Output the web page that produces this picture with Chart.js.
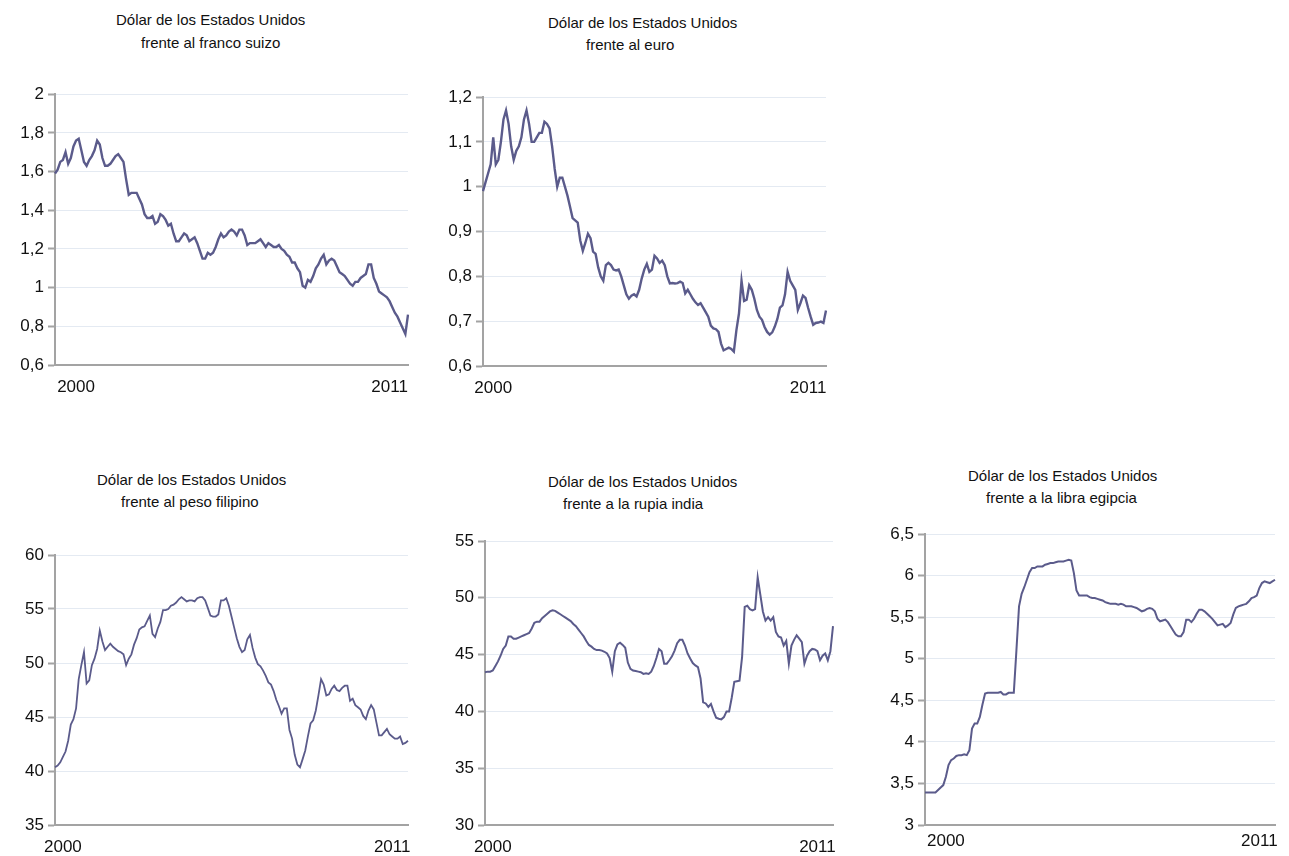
<!DOCTYPE html>
<html>
<head>
<meta charset="utf-8">
<script src="https://cdn.jsdelivr.net/npm/chart.js@4.4.0/dist/chart.umd.min.js"></script>
<style>
  body { margin: 0; width: 1289px; height: 856px; background: #fff; overflow: hidden; position: relative;
         font-family: "Liberation Sans", Arial, sans-serif; }
  .t { position: absolute; font-size: 15px; line-height: 16px; color: #111; white-space: nowrap; }
  canvas { position: absolute; }
</style>
</head>
<body>
<div class="t" style="left:116px;top:12px">Dólar de los Estados Unidos</div>
<div class="t" style="left:141px;top:35px">frente al franco suizo</div>
<div class="t" style="left:548px;top:15px">Dólar de los Estados Unidos</div>
<div class="t" style="left:586px;top:37px">frente al euro</div>
<div class="t" style="left:97px;top:472px">Dólar de los Estados Unidos</div>
<div class="t" style="left:121px;top:494px">frente al peso filipino</div>
<div class="t" style="left:548px;top:474px">Dólar de los Estados Unidos</div>
<div class="t" style="left:563px;top:496px">frente a la rupia india</div>
<div class="t" style="left:968px;top:468px">Dólar de los Estados Unidos</div>
<div class="t" style="left:986px;top:490px">frente a la libra egipcia</div>

<canvas id="c1" width="420" height="320" style="left:0;top:80px"></canvas>
<canvas id="c2" width="410" height="320" style="left:428px;top:80px"></canvas>
<canvas id="c3" width="420" height="316" style="left:0;top:540px"></canvas>
<canvas id="c4" width="415" height="331" style="left:430px;top:525px"></canvas>
<canvas id="c5" width="412" height="338" style="left:870px;top:518px"></canvas>

<script>
// monthly values, Jan 2000 .. Mar 2011
const xTickLabels = ['2000', '2011'];

const chfValues = [
  1.59,1.61,1.65,1.66,1.70,1.64,1.67,1.73,1.76,1.77,
  1.71,1.65,1.63,1.66,1.68,1.71,1.76,1.74,1.67,1.63,
  1.63,1.64,1.66,1.68,1.69,1.67,1.65,1.56,1.48,1.49,
  1.49,1.49,1.46,1.43,1.38,1.36,1.36,1.37,1.33,1.34,
  1.38,1.37,1.35,1.32,1.33,1.28,1.24,1.24,1.26,1.28,
  1.27,1.24,1.25,1.26,1.23,1.19,1.15,1.15,1.18,1.17,
  1.18,1.21,1.25,1.28,1.26,1.27,1.29,1.30,1.29,1.27,
  1.30,1.30,1.27,1.22,1.23,1.23,1.23,1.24,1.25,1.23,
  1.21,1.23,1.22,1.21,1.21,1.22,1.20,1.19,1.17,1.16,
  1.13,1.13,1.10,1.08,1.01,1.00,1.04,1.03,1.06,1.10,
  1.12,1.15,1.17,1.12,1.14,1.15,1.14,1.11,1.08,1.07,
  1.06,1.04,1.02,1.01,1.03,1.03,1.05,1.06,1.07,1.12,
  1.12,1.05,1.02,0.98,0.97,0.96,0.95,0.93,0.90,0.87,
  0.85,0.82,0.79,0.76,0.86
];

const eurValues = [
  0.99,1.01,1.03,1.05,1.11,1.05,1.06,1.10,1.15,1.17,
  1.14,1.09,1.06,1.08,1.09,1.11,1.15,1.17,1.14,1.10,
  1.10,1.11,1.12,1.12,1.145,1.14,1.13,1.09,1.04,1.00,
  1.02,1.02,1.00,0.98,0.955,0.93,0.925,0.92,0.88,0.857,
  0.875,0.895,0.885,0.855,0.85,0.82,0.80,0.79,0.825,0.83,
  0.825,0.815,0.813,0.815,0.80,0.78,0.76,0.75,0.757,0.76,
  0.755,0.77,0.795,0.815,0.828,0.81,0.815,0.846,0.84,0.83,
  0.835,0.825,0.80,0.784,0.785,0.784,0.785,0.788,0.785,0.762,
  0.77,0.76,0.75,0.742,0.736,0.74,0.73,0.72,0.71,0.69,
  0.684,0.682,0.676,0.65,0.635,0.638,0.641,0.638,0.632,0.68,
  0.717,0.79,0.745,0.748,0.78,0.77,0.75,0.725,0.71,0.703,
  0.687,0.676,0.67,0.675,0.688,0.705,0.73,0.735,0.76,0.81,
  0.79,0.78,0.77,0.725,0.74,0.757,0.752,0.73,0.71,0.692,
  0.696,0.697,0.699,0.696,0.724
];

const phpValues = [
  40.35,40.5,40.8,41.3,41.8,42.8,44.3,44.8,45.8,48.5,
  49.8,51.0,48.1,48.4,49.8,50.4,51.3,53.0,52.0,51.2,
  51.5,51.8,51.5,51.3,51.1,51.0,50.8,49.8,50.4,50.8,
  51.7,52.3,53.1,53.3,53.4,53.9,54.4,52.7,52.4,53.2,
  53.8,54.9,54.9,55.0,55.3,55.4,55.6,55.9,56.1,55.9,
  55.7,55.8,55.8,55.7,56.0,56.1,56.1,55.8,55.1,54.4,
  54.3,54.3,54.5,55.8,55.8,56.0,55.3,54.3,53.3,52.3,
  51.5,51.0,51.2,52.2,52.6,51.4,50.5,49.9,49.7,49.3,
  48.8,48.2,48.0,47.4,46.6,46.0,45.3,45.8,45.8,43.8,
  43.0,41.5,40.6,40.35,41.1,41.9,43.2,44.4,44.7,45.6,
  47.0,48.5,48.0,47.0,47.1,47.6,47.9,47.5,47.4,47.7,
  47.9,47.9,46.5,46.7,46.1,45.9,45.7,45.1,44.8,45.6,
  46.1,45.7,44.5,43.3,43.3,43.6,43.9,43.4,43.2,43.0,
  43.0,43.2,42.5,42.6,42.8
];

const inrValues = [
  43.45,43.5,43.5,43.6,44.0,44.4,44.9,45.5,45.8,46.6,
  46.6,46.4,46.4,46.5,46.6,46.7,46.8,46.9,47.3,47.8,
  47.9,47.9,48.2,48.4,48.6,48.8,48.9,48.85,48.7,48.55,
  48.4,48.25,48.1,47.95,47.7,47.5,47.2,46.9,46.6,46.2,
  45.85,45.7,45.5,45.4,45.4,45.35,45.25,45.1,44.7,43.5,
  45.3,45.9,46.05,45.85,45.6,44.3,43.75,43.6,43.55,43.5,
  43.45,43.3,43.35,43.3,43.5,44.0,44.7,45.5,45.3,44.2,
  44.2,44.5,44.85,45.35,46.0,46.3,46.3,45.8,45.1,44.65,
  44.25,44.05,43.9,42.9,40.8,40.7,40.4,40.65,40.0,39.45,
  39.35,39.3,39.5,40.0,40.0,41.2,42.6,42.65,42.7,44.8,
  49.2,49.3,49.0,48.9,49.0,51.8,50.3,48.8,48.0,48.3,
  48.0,48.3,47.0,46.6,46.5,45.8,46.2,44.2,45.8,46.3,
  46.7,46.4,46.1,44.2,44.9,45.3,45.5,45.45,45.3,44.5,
  44.9,45.1,44.5,45.3,47.5
];

const egpValues = [
  3.39,3.39,3.39,3.39,3.39,3.42,3.45,3.48,3.58,3.72,
  3.78,3.80,3.83,3.84,3.84,3.85,3.84,3.90,4.16,4.22,
  4.22,4.30,4.45,4.58,4.59,4.59,4.59,4.59,4.59,4.60,
  4.57,4.57,4.59,4.59,4.59,5.10,5.63,5.78,5.86,5.95,
  6.04,6.09,6.09,6.11,6.11,6.11,6.13,6.14,6.15,6.15,
  6.16,6.17,6.17,6.17,6.18,6.19,6.18,6.03,5.82,5.76,
  5.76,5.76,5.76,5.74,5.73,5.73,5.72,5.71,5.70,5.68,
  5.67,5.66,5.66,5.66,5.65,5.66,5.65,5.63,5.63,5.63,
  5.62,5.61,5.59,5.57,5.58,5.60,5.61,5.60,5.57,5.48,
  5.45,5.46,5.47,5.44,5.39,5.34,5.29,5.27,5.27,5.32,
  5.47,5.47,5.44,5.48,5.54,5.59,5.59,5.57,5.54,5.51,
  5.48,5.44,5.40,5.41,5.42,5.38,5.40,5.43,5.53,5.61,
  5.63,5.64,5.65,5.66,5.69,5.73,5.74,5.76,5.85,5.91,
  5.93,5.92,5.91,5.93,5.95
];

const monthLabels = [];
for (let y = 2000; monthLabels.length < 135; y++) {
  for (let m = 1; m <= 12 && monthLabels.length < 135; m++) monthLabels.push(y + '-' + m);
}

const lineColor = '#5b5b8b';
const axisColor = '#a3a3a3';
const gridColor = '#e4eaf2';
const textColor = '#111';
const fontFam = '"Liberation Sans", Arial, sans-serif';

// labelAt: tick indexes where the two year labels sit (centred)
function makeChart(id, values, yMin, yMax, yStep, pad, lineW, labelAt) {
  return new Chart(document.getElementById(id), {
    type: 'line',
    data: {
      labels: monthLabels.slice(0, values.length),
      datasets: [{ data: values, borderColor: lineColor, borderWidth: lineW, pointRadius: 0, tension: 0, fill: false }]
    },
    options: {
      responsive: false,
      animation: false,
      devicePixelRatio: 1,
      layout: { padding: { top: pad.top, right: pad.right, left: 0, bottom: 0 } },
      plugins: { legend: { display: false }, tooltip: { enabled: false } },
      scales: {
        x: {
          afterFit: s => { s.height = pad.xh; },
          grid: { display: false, drawTicks: false },
          border: { color: axisColor, width: 2 },
          ticks: {
            autoSkip: false, maxRotation: 0, padding: pad.xp,
            color: textColor, font: { size: 17, family: fontFam },
            callback: (v, i) => i === labelAt[0] ? xTickLabels[0] : (i === labelAt[1] ? xTickLabels[1] : '')
          }
        },
        y: {
          min: yMin, max: yMax,
          afterFit: s => { s.width = pad.yw; },
          grid: { color: gridColor, lineWidth: 1, drawTicks: true, tickLength: 7, tickColor: axisColor, tickWidth: 2 },
          border: { color: axisColor, width: 2 },
          ticks: {
            stepSize: yStep, padding: 4, color: textColor, font: { size: 17, family: fontFam },
            callback: v => String(+v.toFixed(2)).replace('.', ',')
          }
        }
      }
    }
  });
}

makeChart('c1', chfValues, 0.6, 2, 0.2, { top: 12, right: 7, xh: 35, yw: 55, xp: 12 }, 2.4, [8, 127]);
makeChart('c2', eurValues, 0.6, 1.2, 0.1, { top: 17, right: 8, xh: 34, yw: 55, xp: 12 }, 2.4, [4, 127]);
makeChart('c3', phpValues, 35, 60, 5, { top: 15, right: 8, xh: 31, yw: 55, xp: 12 }, 1.8, [3, 128]);
makeChart('c4', inrValues, 30, 55, 5, { top: 16, right: 5, xh: 31, yw: 55, xp: 12 }, 2, [3, 128]);
makeChart('c5', egpValues, 3, 6.5, 0.5, { top: 16, right: 7, xh: 31, yw: 55, xp: 6 }, 2, [8, 128]);
</script>
</body>
</html>
